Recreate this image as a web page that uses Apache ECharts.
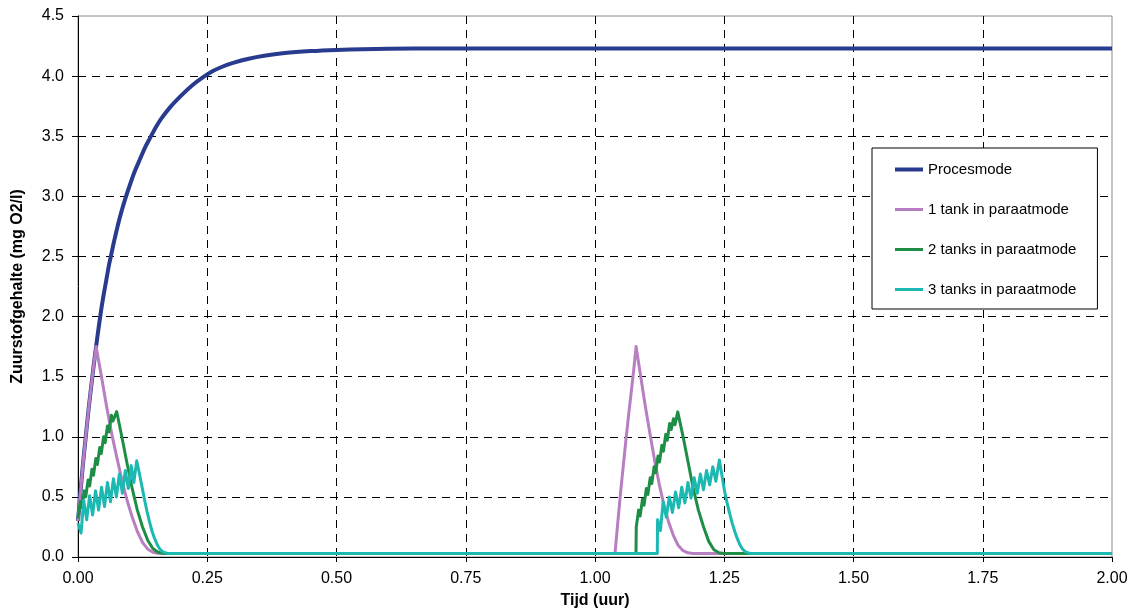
<!DOCTYPE html>
<html>
<head>
<meta charset="utf-8">
<script src="https://cdn.jsdelivr.net/npm/echarts@6/dist/echarts.min.js"></script>
<style>
  html, body { margin: 0; padding: 0; background: #fff; }
  #chart { width: 1138px; height: 614px; }
</style>
</head>
<body>
<div id="chart"></div>
<script>
// Zuurstofgehalte (mg O2/l) against tijd (uur), per beluchtingsmodus
const seriesNames = ['Procesmode', '1 tank in paraatmode', '2 tanks in paraatmode', '3 tanks in paraatmode'];
const seriesColors = ['#283B8E', '#B77EC1', '#1E8E46', '#1CB9B3'];

// [tijd (uur), zuurstof (mg O2/l)]
const procesmode = [
  [0, 0.30], [0.005, 0.55], [0.01, 0.79], [0.015, 1.00], [0.02, 1.21], [0.025, 1.40],
  [0.03, 1.58], [0.035, 1.75], [0.04, 1.91], [0.045, 2.06], [0.05, 2.19], [0.055, 2.31],
  [0.06, 2.43], [0.065, 2.53], [0.07, 2.63], [0.08, 2.81], [0.09, 2.96], [0.10, 3.09],
  [0.11, 3.21], [0.12, 3.31], [0.13, 3.41], [0.14, 3.49], [0.15, 3.57], [0.16, 3.64],
  [0.18, 3.75], [0.20, 3.84], [0.22, 3.92], [0.24, 3.985], [0.26, 4.04], [0.28, 4.08],
  [0.30, 4.11], [0.33, 4.145], [0.36, 4.17], [0.40, 4.192], [0.45, 4.208], [0.50, 4.218],
  [0.55, 4.224], [0.60, 4.227], [0.70, 4.23], [0.80, 4.23], [1.00, 4.23], [1.50, 4.23], [2.00, 4.23]
];

const tank1 = [
  [0, 0.30], [0.005, 0.55], [0.01, 0.79], [0.015, 1.00], [0.02, 1.21], [0.025, 1.40],
  [0.03, 1.58], [0.035, 1.75], [0.045, 1.51], [0.055, 1.26], [0.065, 1.03], [0.075, 0.83],
  [0.085, 0.64], [0.095, 0.47], [0.105, 0.33], [0.115, 0.21], [0.125, 0.12], [0.135, 0.065],
  [0.145, 0.04], [0.155, 0.032], [0.165, 0.03],
  [1.0387, 0.03], [1.045, 0.33], [1.05, 0.56], [1.055, 0.77], [1.06, 0.98], [1.065, 1.18],
  [1.07, 1.37], [1.075, 1.56], [1.0795, 1.75], [1.0885, 1.50], [1.0975, 1.25], [1.1065, 1.02],
  [1.1155, 0.80], [1.1245, 0.60], [1.1335, 0.43], [1.1425, 0.29], [1.1515, 0.18], [1.1605, 0.10],
  [1.1695, 0.055], [1.1795, 0.035], [1.1895, 0.03], [2.00, 0.03]
];

const tank2 = [
  [0, 0.32], [0.0045, 0.46], [0.0075, 0.41], [0.012, 0.55], [0.015, 0.50], [0.0195, 0.64],
  [0.0225, 0.59], [0.027, 0.73], [0.030, 0.68], [0.0345, 0.82], [0.0375, 0.77], [0.042, 0.91],
  [0.045, 0.86], [0.0495, 1.00], [0.0525, 0.95], [0.057, 1.09], [0.060, 1.04], [0.0645, 1.18],
  [0.0675, 1.13], [0.0748, 1.21], [0.0848, 1.00], [0.0948, 0.78], [0.1048, 0.57], [0.1148, 0.39],
  [0.1248, 0.25], [0.1348, 0.14], [0.1448, 0.07], [0.1548, 0.04], [0.1648, 0.03],
  [1.0793, 0.03], [1.0798, 0.25], [1.0843, 0.39], [1.0873, 0.34], [1.0918, 0.48], [1.0948, 0.43],
  [1.0993, 0.57], [1.1023, 0.52], [1.1068, 0.66], [1.1098, 0.61], [1.1143, 0.75], [1.1173, 0.70],
  [1.1218, 0.84], [1.1248, 0.79], [1.1293, 0.93], [1.1323, 0.88], [1.1368, 1.02], [1.1398, 0.97],
  [1.1443, 1.11], [1.1473, 1.06], [1.1518, 1.15], [1.1548, 1.10], [1.160, 1.207],
  [1.17, 1.01], [1.18, 0.79], [1.19, 0.57], [1.20, 0.39], [1.21, 0.25], [1.22, 0.13],
  [1.23, 0.06], [1.24, 0.035], [1.25, 0.03], [2.00, 0.03]
];

const tank3 = [
  [0, 0.28], [0.006, 0.20], [0.011, 0.47], [0.0168, 0.31], [0.0225, 0.51], [0.0283, 0.35],
  [0.034, 0.55], [0.0398, 0.39], [0.0455, 0.58], [0.0513, 0.42], [0.057, 0.62], [0.0628, 0.46],
  [0.0685, 0.65], [0.0743, 0.50], [0.08, 0.69], [0.0858, 0.53], [0.0915, 0.72], [0.0973, 0.57],
  [0.103, 0.76], [0.108, 0.62], [0.1135, 0.80], [0.1185, 0.70], [0.1235, 0.59], [0.1285, 0.48],
  [0.1335, 0.38], [0.1385, 0.29], [0.1435, 0.21], [0.1485, 0.15], [0.1535, 0.10], [0.1585, 0.065],
  [0.1635, 0.045], [0.1685, 0.035], [0.1735, 0.03],
  [1.1205, 0.03], [1.121, 0.31], [1.1265, 0.22], [1.1318, 0.46], [1.1378, 0.33], [1.1438, 0.50],
  [1.1498, 0.37], [1.1558, 0.54], [1.1618, 0.41], [1.1678, 0.58], [1.1738, 0.45], [1.1798, 0.62],
  [1.1858, 0.49], [1.1918, 0.66], [1.1978, 0.53], [1.2038, 0.69], [1.2098, 0.56], [1.2158, 0.72],
  [1.2218, 0.60], [1.2278, 0.75], [1.2338, 0.63], [1.2405, 0.806], [1.2455, 0.68], [1.2505, 0.55],
  [1.2555, 0.45], [1.2605, 0.36], [1.2655, 0.28], [1.2705, 0.21], [1.2755, 0.15], [1.2805, 0.10],
  [1.2855, 0.065], [1.2905, 0.045], [1.2955, 0.035], [1.3005, 0.03], [2.00, 0.03]
];

const seriesData = [procesmode, tank1, tank2, tank3];
const lineWidths = [4, 3, 3, 3];

const xAxisRange = { min: 0, max: 2, interval: 0.25 };
const yAxisRange = { min: 0, max: 4.5, interval: 0.5 };

const FONT = '"Liberation Sans", Arial, sans-serif';

const chart = echarts.init(document.getElementById('chart'), null, { renderer: 'canvas' });

const gridDash = { type: [8, 6], color: '#000', width: 1 };

chart.setOption({
  animation: false,
  backgroundColor: '#fff',
  textStyle: { fontFamily: FONT },
  grid: {
    left: 78, right: 26, top: 16, bottom: 55,
    show: true, borderColor: '#8a8a8a', borderWidth: 1, backgroundColor: 'transparent'
  },
  xAxis: {
    type: 'value',
    min: xAxisRange.min, max: xAxisRange.max, interval: xAxisRange.interval,
    name: 'Tijd (uur)',
    nameLocation: 'middle',
    nameGap: 36,
    nameTextStyle: { fontFamily: FONT, fontSize: 16, fontWeight: 'bold', color: '#000' },
    axisLine: { show: true, onZero: false, lineStyle: { color: '#000', width: 1 } },
    axisTick: { show: true, inside: false, length: 5, lineStyle: { color: '#000' } },
    axisLabel: {
      margin: 14, fontFamily: FONT, fontSize: 16, color: '#000',
      formatter: v => v.toFixed(2)
    },
    splitLine: { show: true, showMinLine: false, showMaxLine: false, lineStyle: gridDash }
  },
  yAxis: {
    type: 'value',
    min: yAxisRange.min, max: yAxisRange.max, interval: yAxisRange.interval,
    name: 'Zuurstofgehalte (mg O2/l)',
    nameLocation: 'middle',
    nameGap: 52,
    nameTextStyle: { fontFamily: FONT, fontSize: 16, fontWeight: 'bold', color: '#000' },
    axisLine: { show: true, onZero: false, lineStyle: { color: '#000', width: 1 } },
    axisTick: { show: true, inside: false, length: 6, lineStyle: { color: '#000' } },
    axisLabel: {
      margin: 14, fontFamily: FONT, fontSize: 16, color: '#000',
      formatter: v => v.toFixed(1)
    },
    splitLine: { show: true, showMinLine: false, showMaxLine: false, lineStyle: gridDash }
  },
  legend: {
    orient: 'vertical',
    left: 872, top: 148,
    padding: [14, 21, 12, 23],
    itemGap: 25,
    itemWidth: 28,
    itemHeight: 14,
    backgroundColor: '#fff',
    borderColor: '#000',
    borderWidth: 1,
    borderRadius: 0,
    icon: 'rect',
    textStyle: { fontFamily: FONT, fontSize: 15, color: '#000', padding: [0, 0, 0, 0] },
    data: seriesNames.map((n, i) => ({
      name: n,
      icon: 'path://M0,0 L28,0 L28,' + lineWidths[i] + ' L0,' + lineWidths[i] + ' Z'
    }))
  },
  series: seriesNames.map((name, i) => ({
    name: name,
    type: 'line',
    data: seriesData[i],
    showSymbol: false,
    symbol: 'none',
    smooth: i === 0 ? 0.3 : false,
    lineStyle: { color: seriesColors[i], width: lineWidths[i], join: 'round' },
    itemStyle: { color: seriesColors[i] },
    z: 2 + i
  }))
});
</script>
</body>
</html>
